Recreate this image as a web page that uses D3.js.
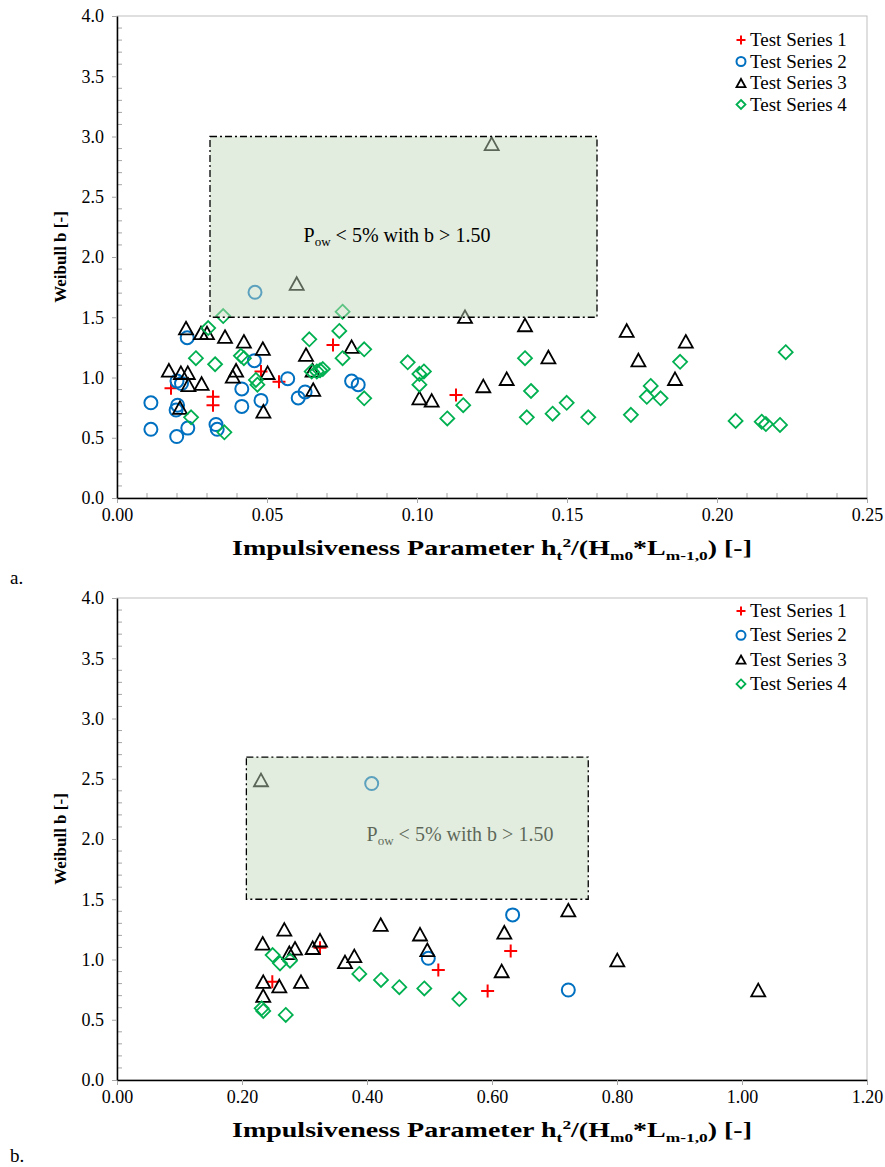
<!DOCTYPE html>
<html><head><meta charset="utf-8">
<script src="https://cdn.jsdelivr.net/npm/d3@7"></script>
<style>body{margin:0;background:#fff}svg{display:block}</style></head>
<body><svg id="c" width="885" height="1167"></svg>
<script>
const seriesNames = ["Test Series 1","Test Series 2","Test Series 3","Test Series 4"];

// ---- Chart a data ----
const aSeries1 = [[0.018,0.91],[0.032,0.84],[0.032,0.77],[0.048,1.05],[0.054,0.965],[0.072,1.27],[0.113,0.855]];
const aSeries2 = [[0.0113,0.79],[0.0113,0.57],[0.020,0.97],[0.0215,0.95],[0.0202,0.77],[0.0197,0.73],[0.0199,0.51],[0.0234,1.33],[0.0236,0.58],[0.033,0.61],[0.0334,0.57],[0.0416,0.905],[0.0416,0.76],[0.0458,1.14],[0.048,0.81],[0.046,1.707],[0.0569,0.99],[0.0604,0.83],[0.0627,0.88],[0.0782,0.97],[0.0804,0.94]];
const aSeries3 = [[0.0173,1.06],[0.021,0.75],[0.0213,1.04],[0.023,1.41],[0.0236,1.04],[0.0238,0.94],[0.0282,0.95],[0.028,1.37],[0.030,1.37],[0.036,1.34],[0.0386,1.01],[0.0397,1.06],[0.0423,1.30],[0.0486,1.24],[0.0488,0.72],[0.0502,1.04],[0.0599,1.78],[0.063,1.19],[0.0652,1.06],[0.0654,0.90],[0.0782,1.256],[0.1008,0.83],[0.1049,0.81],[0.116,1.505],[0.1221,0.93],[0.1249,2.94],[0.1299,0.99],[0.136,1.436],[0.1438,1.17],[0.1699,1.39],[0.1738,1.145],[0.186,0.99],[0.1896,1.30]];
const aSeries4 = [[0.0247,0.67],[0.0263,1.16],[0.0304,1.41],[0.0327,1.11],[0.0354,1.51],[0.0358,0.545],[0.0413,1.18],[0.0423,1.16],[0.0463,0.98],[0.0468,0.94],[0.0641,1.317],[0.0649,1.05],[0.0666,1.05],[0.0677,1.06],[0.0686,1.07],[0.0741,1.386],[0.0752,1.546],[0.0752,1.16],[0.0824,1.234],[0.0824,0.827],[0.0969,1.126],[0.1008,1.03],[0.1023,1.05],[0.1008,0.94],[0.1101,0.66],[0.1154,0.77],[0.136,1.16],[0.138,0.888],[0.1366,0.67],[0.1452,0.70],[0.1499,0.79],[0.1571,0.67],[0.1713,0.69],[0.1779,0.93],[0.1766,0.84],[0.1812,0.827],[0.1877,1.13],[0.2062,0.64],[0.2149,0.633],[0.2163,0.614],[0.221,0.606],[0.2229,1.21]];
const aXTicks = [0,0.05,0.10,0.15,0.20,0.25];
const aXTickLabels = ["0.00","0.05","0.10","0.15","0.20","0.25"];
const aXMinorStep = 0.01;
const aZone = [0.031,0.16,1.5,3.0]; // x0,x1,y0,y1

// ---- Chart b data ----
const bSeries1 = [[0.2485,0.816],[0.3248,1.098],[0.5141,0.913],[0.593,0.739],[0.6299,1.07]];
const bSeries2 = [[0.4075,2.46],[0.4981,1.01],[0.633,1.37],[0.7221,0.747]];
const bSeries3 = [[0.2304,2.49],[0.2331,1.134],[0.234,0.816],[0.234,0.70],[0.2597,0.78],[0.2677,1.25],[0.2757,1.056],[0.2848,1.093],[0.2944,0.816],[0.3131,1.098],[0.3248,1.16],[0.3648,0.98],[0.3797,1.03],[0.4219,1.29],[0.4848,1.21],[0.4965,1.08],[0.6155,0.905],[0.6197,1.226],[0.7221,1.41],[0.8005,0.996],[1.026,0.747]];
const bSeries4 = [[0.2315,0.595],[0.234,0.573],[0.249,1.037],[0.2608,0.968],[0.2768,0.99],[0.270,0.54],[0.3877,0.88],[0.4224,0.83],[0.4517,0.77],[0.4917,0.76],[0.5477,0.672]];
const bXTicks = [0,0.2,0.4,0.6,0.8,1.0,1.2];
const bXTickLabels = ["0.00","0.20","0.40","0.60","0.80","1.00","1.20"];
const bXMinorStep = null;
const bZone = [0.207,0.754,1.5,2.68];

const yTicks = [0,0.5,1,1.5,2,2.5,3,3.5,4];
const yTickLabels = ["0.0","0.5","1.0","1.5","2.0","2.5","3.0","3.5","4.0"];
const zoneLabel = "< 5% with b > 1.50";

const FONT = "'Liberation Serif','Times New Roman',serif";
const colors = ["#ff0000","#0070c0","#000000","#00b050"];
const svg = d3.select("#c");

function marker(g, type, x, y, s) {
  const c = colors[type];
  if (type === 0) {
    g.append("path").attr("d", `M${x-s},${y}H${x+s}M${x},${y-s}V${y+s}`)
      .attr("stroke", c).attr("stroke-width", 2).attr("fill","none");
  } else if (type === 1) {
    g.append("circle").attr("cx",x).attr("cy",y).attr("r",s)
      .attr("stroke",c).attr("stroke-width",2).attr("fill","none");
  } else if (type === 2) {
    const h = s*0.9;
    g.append("path").attr("d",`M${x},${y-h}L${x+s},${y+h}L${x-s},${y+h}Z`)
      .attr("stroke",c).attr("stroke-width",1.8).attr("fill","none").attr("stroke-linejoin","miter");
  } else {
    g.append("path").attr("d",`M${x},${y-s}L${x+s},${y}L${x},${y+s}L${x-s},${y}Z`)
      .attr("stroke",c).attr("stroke-width",1.8).attr("fill","none");
  }
}

function drawChart(cfg) {
  const L=117, R=867, T=cfg.top, B=cfg.top+482;
  const x = d3.scaleLinear().domain([0, cfg.xMax]).range([L,R]);
  const y = d3.scaleLinear().domain([0,4]).range([B,T]);
  const g = svg.append("g");

  g.append("rect").attr("x",L).attr("y",T).attr("width",R-L).attr("height",B-T)
    .attr("fill","none").attr("stroke","#bfbfbf").attr("stroke-width",1);

  if (cfg.xMinor) {
    const minor = d3.range(0, cfg.xMax+1e-9, cfg.xMinor).filter(v => !cfg.xTicks.some(t => Math.abs(t-v)<1e-9));
    g.selectAll(null).data(minor).join("line")
      .attr("x1",d=>x(d)).attr("x2",d=>x(d)).attr("y1",B).attr("y2",B-5)
      .attr("stroke","#a6a6a6").attr("stroke-width",1);
  }
  const yMinor = d3.range(0,4.0001,0.1).filter(v => !yTicks.some(t=>Math.abs(t-v)<1e-9));
  g.selectAll(null).data(yMinor).join("line")
    .attr("x1",L).attr("x2",L+5).attr("y1",d=>y(d)).attr("y2",d=>y(d))
    .attr("stroke","#a6a6a6").attr("stroke-width",1);

  const xAxis = d3.axisBottom(x).tickValues(cfg.xTicks).tickFormat((d,i)=>cfg.xLabels[i]).tickSize(5).tickSizeOuter(0).tickPadding(5);
  const gx = g.append("g").attr("transform",`translate(0,${B})`).call(xAxis);
  gx.select(".domain").attr("stroke","#000").attr("stroke-width",1.5);
  gx.selectAll(".tick line").attr("stroke","#a6a6a6");
  gx.selectAll(".tick text").attr("font-family",FONT).attr("font-size",18).attr("fill","#000");

  const yAxis = d3.axisLeft(y).tickValues(yTicks).tickFormat((d,i)=>yTickLabels[i]).tickSize(5).tickSizeOuter(0).tickPadding(8);
  const gy = g.append("g").attr("transform",`translate(${L},0)`).call(yAxis);
  gy.select(".domain").attr("stroke","#000").attr("stroke-width",1.5);
  gy.selectAll(".tick line").attr("stroke","#a6a6a6");
  gy.selectAll(".tick text").attr("font-family",FONT).attr("font-size",18).attr("fill","#000");

  const mg = g.append("g");
  cfg.series.forEach((data, si) => {
    data.forEach(d => marker(mg, si, x(d[0]), y(d[1]), si===1?6.5:(si===0?6.5:7)));
  });

  const z = cfg.zone;
  const zx0=x(z[0]), zx1=x(z[1]), zy0=y(z[3]), zy1=y(z[2]);
  function zoneText(color, ty) {
    const t = g.append("text").attr("x", cfg.textX).attr("y", ty)
      .attr("font-family",FONT).attr("font-size",20).attr("fill",color).attr("text-anchor","middle");
    t.append("tspan").text("P");
    t.append("tspan").attr("font-size",13).attr("dy",4).text("ow");
    t.append("tspan").attr("dy",-4).text(" " + zoneLabel);
  }
  if (!cfg.textOnTop) zoneText("#000", cfg.textY);
  g.append("rect").attr("x",zx0).attr("y",zy0).attr("width",zx1-zx0).attr("height",zy1-zy0)
    .attr("fill","#c4d9bb").attr("fill-opacity",0.47)
    .attr("stroke","#000").attr("stroke-width",1.3).attr("stroke-dasharray","7,3,2,3");
  if (cfg.textOnTop) zoneText("#000", cfg.textY);

  g.append("text").attr("transform",`translate(66,${(T+B)/2}) rotate(-90)`)
    .attr("text-anchor","middle").attr("font-family",FONT).attr("font-weight","bold").attr("font-size",17)
    .text("Weibull b [-]");
  const xt = g.append("text").attr("x",232).attr("y",B+57)
    .attr("font-family",FONT).attr("font-weight","bold").attr("font-size",21)
    .attr("textLength",520).attr("lengthAdjust","spacingAndGlyphs");
  xt.append("tspan").text("Impulsiveness Parameter h");
  xt.append("tspan").attr("font-size",13).attr("dy",5).text("t");
  xt.append("tspan").attr("font-size",13).attr("dy",-13).text("2");
  xt.append("tspan").attr("dy",8).text("/(H");
  xt.append("tspan").attr("font-size",13).attr("dy",5).text("m0");
  xt.append("tspan").attr("dy",-5).text("*L");
  xt.append("tspan").attr("font-size",13).attr("dy",5).text("m-1,0");
  xt.append("tspan").attr("dy",-5).text(") [-]");

  seriesNames.forEach((n,i) => {
    const ly = cfg.legendY + i*cfg.legendStep;
    marker(g, i, 741, ly, 4.5);
    g.append("text").attr("x",750).attr("y",ly+6).attr("font-family",FONT).attr("font-size",19).text(n);
  });

  g.append("text").attr("x",10).attr("y",cfg.tagY).attr("font-family",FONT).attr("font-size",19).text(cfg.tag);
}

drawChart({top:16, xMax:0.25, xTicks:aXTicks, xLabels:aXTickLabels, xMinor:aXMinorStep,
  series:[aSeries1,aSeries2,aSeries3,aSeries4], zone:aZone, textOnTop:true, textX:397, textY:242,
  legendY:40, legendStep:21.5, tag:"a.", tagY:584});
drawChart({top:598, xMax:1.2, xTicks:bXTicks, xLabels:bXTickLabels, xMinor:bXMinorStep,
  series:[bSeries1,bSeries2,bSeries3,bSeries4], zone:bZone, textOnTop:false, textX:460, textY:841,
  legendY:611, legendStep:24.3, tag:"b.", tagY:1162});
</script></body></html>
